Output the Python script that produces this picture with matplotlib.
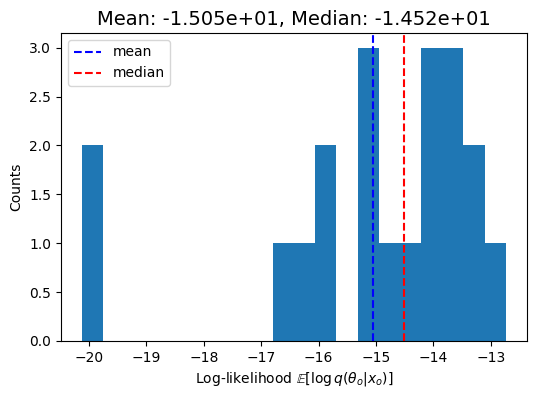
import matplotlib
matplotlib.use("Agg")
import matplotlib.pyplot as plt
import numpy as np

# per-sample log-likelihood values
loglik = np.array([
    -20.12, -19.90,
    -16.60, -16.20,
    -15.90, -15.80,
    -15.20, -15.00, -14.98,
    -14.62, -14.42,
    -14.10, -14.00, -13.90,
    -13.75, -13.65, -13.55,
    -13.35, -13.20,
    -12.74,
])
n_bins = 20

mean = np.mean(loglik)
median = np.median(loglik)

fig = plt.figure(figsize=(5.36, 3.98), dpi=100)
ax = fig.add_axes([61/536, 1-341/398, (527-61)/536, (341-33)/398])
ax.hist(loglik, bins=n_bins)
ax.axvline(mean, color='b', linestyle='--', label='mean')
ax.axvline(median, color='r', linestyle='--', label='median')
ax.set_title(f'Mean: {mean:.3e}, Median: {median:.3e}', fontsize=14)
ax.set_xlabel(r'Log-likelihood $\mathbb{E}[\log q(\theta_o | x_o)]$')
ax.set_ylabel('Counts')
ax.legend(loc='upper left')

fig.savefig('out.png', dpi=100)
